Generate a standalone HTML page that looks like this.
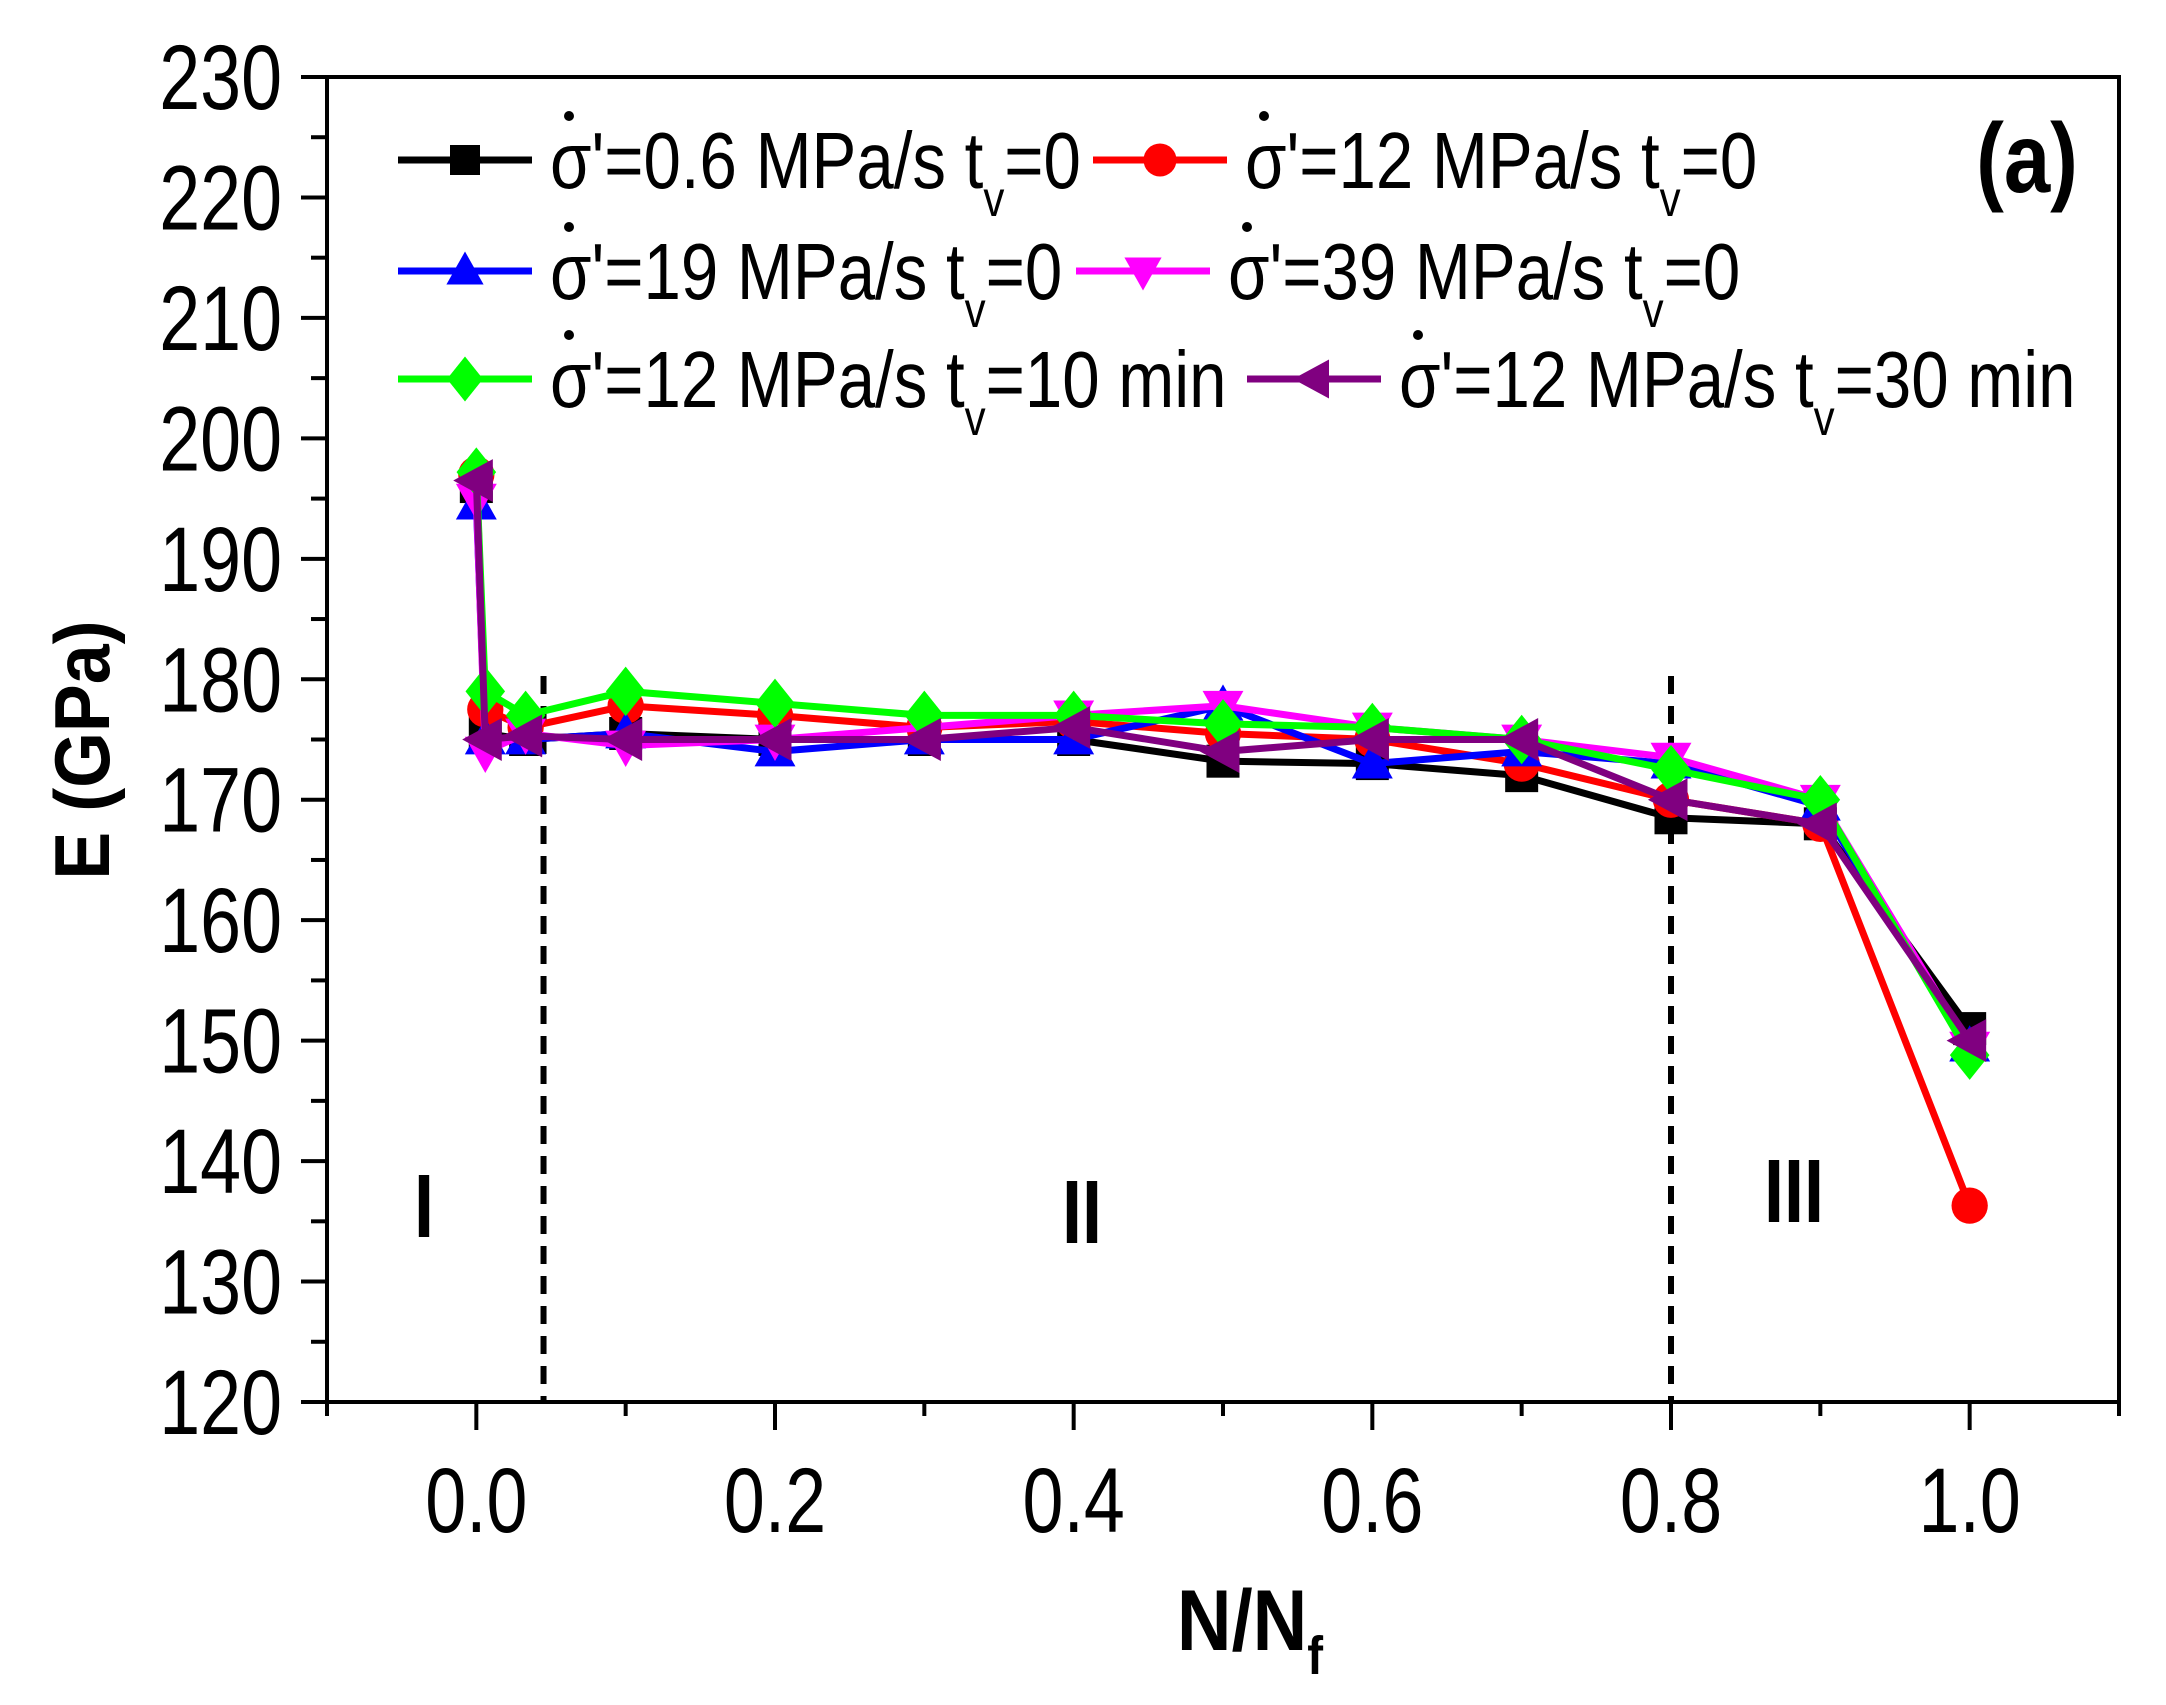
<!DOCTYPE html>
<html><head><meta charset="utf-8"><style>
html,body{margin:0;padding:0;background:#fff;}
svg{display:block;font-family:"Liberation Sans",Arial,sans-serif;}
</style></head><body>
<svg id="chart" width="2166" height="1705" viewBox="0 0 2166 1705" xmlns="http://www.w3.org/2000/svg">
<rect x="0" y="0" width="2166" height="1705" fill="#fff"/>
<g id="grid-layer"></g>
<g id="series-layer"></g>
<g id="legend"></g>
<g transform="translate(2027,192) scale(0.85,1)"><text x="0" y="0" font-size="98" font-weight="bold" text-anchor="middle">(a)</text></g>
<g transform="translate(109,750) rotate(-90) scale(0.92,1)"><text x="0" y="0" font-size="78" font-weight="bold" text-anchor="middle">E (GPa)</text></g>
<g transform="translate(1250,1650) scale(0.88,1)"><text x="0" y="0" font-size="86" font-weight="bold" text-anchor="middle">N/N<tspan font-size="54" dy="24">f</tspan></text></g>
<g transform="translate(424,1237) scale(0.8,1)"><text x="0" y="0" font-size="90" font-weight="bold" text-anchor="middle">I</text></g>
<g transform="translate(1082,1243) scale(0.8,1)"><text x="0" y="0" font-size="90" font-weight="bold" text-anchor="middle">II</text></g>
<g transform="translate(1794,1222) scale(0.8,1)"><text x="0" y="0" font-size="90" font-weight="bold" text-anchor="middle">III</text></g>
</svg>
<script>
const xValues = [0, 0.006, 0.033, 0.1, 0.2, 0.3, 0.4, 0.5, 0.6, 0.7, 0.8, 0.9, 1.0];
const seriesBlack = [196, 175.5, 175, 175.5, 175, 175, 175, 173.2, 173, 172, 168.5, 168, 151];
const seriesRed = [197, 177.5, 176, 177.8, 177, 176, 176.5, 175.5, 175, 173, 170, 168, 136.3];
const seriesBlue = [194.5, 175, 175, 175.5, 174, 175, 175, 177.8, 173, 174, 173, 169.5, 149.5];
const seriesMagenta = [195, 174, 175.5, 174.5, 175, 176, 177, 177.8, 176, 175, 173.5, 170, 149.5];
const seriesGreen = [197.2, 179, 177, 179, 178, 177, 177, 176.3, 176, 175, 172.5, 170, 148.8];
const seriesPurple = [196.5, 175, 175.3, 175, 175, 175, 176, 174, 175, 175, 170, 168, 150];
const yTickLabels = ["120","130","140","150","160","170","180","190","200","210","220","230"];
const xTickLabels = ["0.0","0.2","0.4","0.6","0.8","1.0"];
const regionBoundaries = [0.045, 0.8];

const NS = "http://www.w3.org/2000/svg";
const L = 327, R = 2119, T = 77, B = 1402;
const XMIN = -0.1, XMAX = 1.1, YMIN = 120, YMAX = 230;
function sx(v){ return L + (v - XMIN) / (XMAX - XMIN) * (R - L); }
function sy(v){ return B - (v - YMIN) / (YMAX - YMIN) * (B - T); }
function mk(tag, attrs, parent){ const e = document.createElementNS(NS, tag); for (const k in attrs) e.setAttribute(k, attrs[k]); parent.appendChild(e); return e; }

const grid = document.getElementById('grid-layer');
let fr = mk('rect', {x:L, y:T, width:R-L, height:B-T, fill:'none', stroke:'#000', 'stroke-width':4}, grid);


for (let v = 120; v <= 230; v += 5) {
  const major = (v % 10 === 0);
  const t = mk('line', {x1:L - (major ? 26 : 16), x2:L, y1:sy(v), y2:sy(v), stroke:'#000', 'stroke-width':4}, grid);
  
  
}
yTickLabels.forEach(s => {
  const g = mk('g', {transform:`translate(282,${sy(parseFloat(s)) + 32}) scale(0.8,1)`}, grid);
  const t = mk('text', {x:0, y:0, 'font-size':92, 'text-anchor':'end'}, g);
  t.textContent = s;
  
  
});
for (let i = -1; i <= 11; i++) {
  const v = i / 10;
  const major = (i % 2 === 0);
  const t = mk('line', {x1:sx(v), x2:sx(v), y1:B, y2:B + (major ? 28 : 14), stroke:'#000', 'stroke-width':4}, grid);
  
  
}
xTickLabels.forEach(s => {
  const g = mk('g', {transform:`translate(${sx(parseFloat(s))},1532) scale(0.8,1)`}, grid);
  const t = mk('text', {x:0, y:0, 'font-size':92, 'text-anchor':'middle'}, g);
  t.textContent = s;
  
  
});
regionBoundaries.forEach(v => {
  const d = mk('line', {x1:sx(v), x2:sx(v), y1:676, y2:B, stroke:'#000', 'stroke-width':6, 'stroke-dasharray':'18,12'}, grid);
  
  
});

function marker(parent, type, x, y, color, s){
  let e;
  if (type === 'square') e = mk('rect', {x:x-s*0.5, y:y-s*0.5, width:s, height:s, fill:color}, parent);
  else if (type === 'circle') e = mk('circle', {cx:x, cy:y, r:s*0.55, fill:color}, parent);
  else if (type === 'up') e = mk('polygon', {points:`${x},${y-s*0.65} ${x-s*0.62},${y+s*0.45} ${x+s*0.62},${y+s*0.45}`, fill:color}, parent);
  else if (type === 'down') e = mk('polygon', {points:`${x},${y+s*0.65} ${x-s*0.62},${y-s*0.45} ${x+s*0.62},${y-s*0.45}`, fill:color}, parent);
  else if (type === 'diamond') e = mk('polygon', {points:`${x},${y-s*0.75} ${x+s*0.6},${y} ${x},${y+s*0.75} ${x-s*0.6},${y}`, fill:color}, parent);
  else e = mk('polygon', {points:`${x-s*0.7},${y} ${x+s*0.5},${y-s*0.65} ${x+s*0.5},${y+s*0.65}`, fill:color}, parent);
  return e;
}

const series = [
  {name:'series-0-6-mpa', vals:seriesBlack, color:'#000000', m:'square'},
  {name:'series-12-mpa', vals:seriesRed, color:'#ff0000', m:'circle'},
  {name:'series-19-mpa', vals:seriesBlue, color:'#0000ff', m:'up'},
  {name:'series-39-mpa', vals:seriesMagenta, color:'#ff00ff', m:'down'},
  {name:'series-12-mpa-10min', vals:seriesGreen, color:'#00ff00', m:'diamond'},
  {name:'series-12-mpa-30min', vals:seriesPurple, color:'#800080', m:'left'}
];
const sl = document.getElementById('series-layer');
series.forEach(s => {
  const g = mk('g', {}, sl);
  
  
  const pts = s.vals.map((v,i) => `${sx(xValues[i])},${sy(v)}`).join(' ');
  const pl = mk('polyline', {points:pts, fill:'none', stroke:s.color, 'stroke-width':7, 'stroke-linejoin':'round'}, g);
  
  
  s.vals.forEach((v,i) => {
    const e = marker(g, s.m, sx(xValues[i]), sy(v), s.color, 33);
    
    
  });
});

const lg = document.getElementById('legend');
const legendItems = [
  {x:398, y:160, rate:'0.6', tv:'0'}, {x:1093, y:160, rate:'12', tv:'0'},
  {x:398, y:271, rate:'19', tv:'0'}, {x:1076, y:271, rate:'39', tv:'0'},
  {x:398, y:379, rate:'12', tv:'10 min'}, {x:1247, y:379, rate:'12', tv:'30 min'}
];
legendItems.forEach((it, i) => {
  const s = series[i];
  const g = mk('g', {}, lg);
  
  
  const ln = mk('line', {x1:it.x, x2:it.x+134, y1:it.y, y2:it.y, stroke:s.color, 'stroke-width':7}, g);
  
  
  const mm = marker(g, s.m, it.x+67, it.y, s.color, 30);
  
  
  const tx = it.x + 152;
  const tg = mk('g', {transform:`translate(${tx},${it.y + 28}) scale(0.84,1)`}, g);
  const t = mk('text', {x:0, y:0, 'font-size':80}, tg);
  t.innerHTML = `σ'=${it.rate} MPa/s t<tspan font-size="50" dy="28">v</tspan><tspan dy="-28">=${it.tv}</tspan>`;
  
  
  const dot = mk('circle', {cx:tx+19, cy:it.y-44, r:5, fill:'#000'}, g);
  
  
});
</script>
</body></html>
